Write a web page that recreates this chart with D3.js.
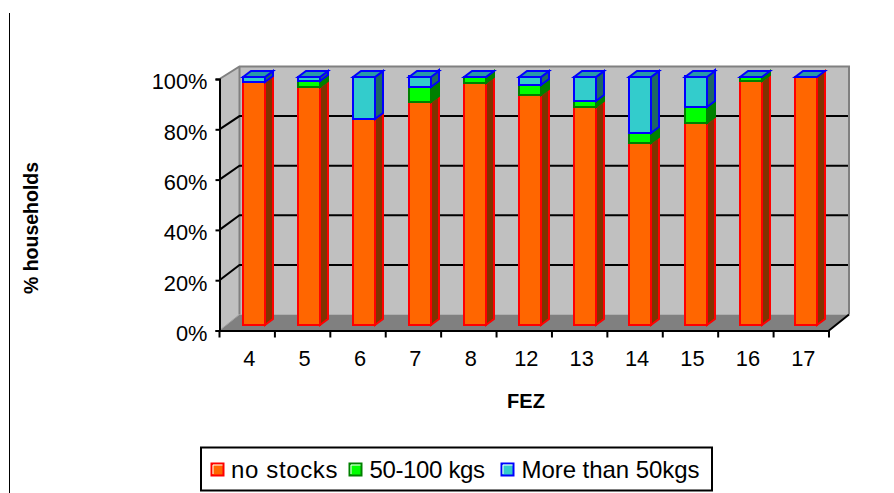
<!DOCTYPE html>
<html><head><meta charset="utf-8">
<script src="https://cdn.jsdelivr.net/npm/d3@7"></script>
<style>html,body{margin:0;padding:0;background:#fff}svg{display:block}text{font-family:"Liberation Sans",Arial,sans-serif;fill:#000}</style>
</head><body><svg id="c" width="894" height="493"></svg>
<script>
const categories=["4","5","6","7","8","12","13","14","15","16","17"];
const noStocks=[97.9,95.6,82.8,89.9,97.3,92.4,87.6,73.1,81.2,98,100];
const kgs50to100=[0,2.4,0,5.7,2.5,4,2.4,4.3,6.4,2,0];
const moreThan50=[2.1,2,17.2,4.4,0.2,3.6,10,22.6,12.4,0,0];
const seriesNames=["no stocks","50-100 kgs","More than 50kgs"];
const seriesValues=[noStocks,kgs50to100,moreThan50];
const fills=["#FF6600","#00FF00","#33CCCC"];
const strokes=["#FF0000","#008000","#0000FF"];
const sides=["#803300","#008000","#1F6666"];
const topFill="#2999A8";
const yTicks=[0,20,40,60,80,100];

const svg=d3.select("#c");
const W=[219.5,829],Yf=[330.5,79],dx=20;
const x=d3.scaleBand().domain(categories).range(W);
const y=d3.scaleLinear().domain([0,100]).range(Yf);
const backY=d3.scaleLinear().domain([0,100]).range([314.5,66.5]);
const barX=d3.scalePoint().domain(categories).range([243,795]);
const barY=d3.scaleLinear().domain([0,100]).range([325,76.5]);
const barW=22,bDx=8,bDy=-6;
const poly=p=>p.map(d=>d.join(",")).join(" ");
const backX=[W[0]+dx,W[1]+dx];

svg.append("line").attr("x1",9.5).attr("x2",9.5).attr("y1",13).attr("y2",493).attr("stroke","#000").attr("stroke-width",1);

// walls and floor
svg.append("polygon").attr("points",poly([[W[0],y(0)],[backX[0],backY(0)],[backX[0],backY(100)],[W[0],y(100)]])).attr("fill","#C0C0C0");
svg.append("rect").attr("x",backX[0]).attr("y",backY(100)).attr("width",backX[1]-backX[0]).attr("height",backY(0)-backY(100)).attr("fill","#C0C0C0");
svg.append("polygon").attr("points",poly([[W[0],y(0)],[W[1],y(0)],[backX[1],backY(0)],[backX[0],backY(0)]])).attr("fill","#808080");
svg.append("path").attr("d",`M${W[0]},${y(100)}L${backX[0]},${backY(100)}H${backX[1]}V${backY(0)}M${backX[0]},${backY(100)}V${backY(0)}`).attr("fill","none").attr("stroke","#808080").attr("stroke-width",2);
yTicks.slice(1,-1).forEach(t=>{
  svg.append("path").attr("d",`M${W[0]},${y(t)}L${backX[0]},${backY(t)}H${backX[1]-1}`).attr("fill","none").attr("stroke","#000").attr("stroke-width",2);
});
svg.append("line").attr("x1",W[1]).attr("y1",y(0)).attr("x2",backX[1]).attr("y2",backY(0)).attr("stroke","#000").attr("stroke-width",2);
svg.append("line").attr("x1",W[0]).attr("y1",y(0)).attr("x2",backX[0]).attr("y2",backY(0)).attr("stroke","#A0A0A0").attr("stroke-width",1);

// bars
const stacked=d3.stack().keys([0,1,2]).value((d,k)=>seriesValues[k][d])(categories.map((c,i)=>i));
categories.forEach((c,i)=>{
  const g=svg.append("g");
  const L=Math.round(barX(c)),R=L+barW;
  [0,1,2].forEach(k=>{
    if(seriesValues[k][i]<=0)return;
    const a=Math.round(barY(stacked[k][i][0])),b=Math.round(barY(stacked[k][i][1]));
    g.append("polygon").attr("points",poly([[R,a],[R+bDx,a+bDy],[R+bDx,b+bDy],[R,b]])).attr("fill",sides[k]).attr("stroke",strokes[k]).attr("stroke-width",2);
    g.append("rect").attr("x",L).attr("y",b).attr("width",barW).attr("height",a-b).attr("fill",fills[k]).attr("stroke",strokes[k]).attr("stroke-width",2);
  });
  const t=Math.round(barY(100));
  g.append("polygon").attr("points",poly([[L,t],[L+bDx,t+bDy],[R+bDx,t+bDy],[R,t]])).attr("fill",topFill).attr("stroke",strokes[2]).attr("stroke-width",2);
});

// axes
const tickFont='"Liberation Sans",Arial,sans-serif';
const ax=svg.append("g").attr("transform",`translate(0,${y(0)})`).call(d3.axisBottom(x).tickSize(0).tickPadding(0));
ax.select(".domain").attr("stroke","#000").attr("stroke-width",2);
ax.selectAll(".tick text").attr("x",2).attr("y",35.5).attr("dy",0).attr("font-size",21.8).style("font-family",tickFont);
d3.range(categories.length+1).forEach(i=>{
  const px=W[0]+i*x.bandwidth();
  svg.append("line").attr("x1",px).attr("x2",px).attr("y1",y(0)).attr("y2",y(0)+7).attr("stroke","#000").attr("stroke-width",2);
});
const ay=svg.append("g").attr("transform",`translate(${W[0]},0)`).call(d3.axisLeft(y).tickValues(yTicks).tickFormat(d=>d+"%").tickSize(4).tickPadding(8));
ay.select(".domain").attr("stroke","#000").attr("stroke-width",2);
ay.selectAll(".tick line").attr("stroke","#000").attr("stroke-width",2);
ay.selectAll(".tick text").attr("dy","0.45em").attr("font-size",21.8).style("font-family",tickFont);

// titles
svg.append("text").attr("x",526).attr("y",408).attr("text-anchor","middle").attr("font-size",20).attr("font-weight","bold").text("FEZ");
svg.append("text").attr("transform","translate(38,228) rotate(-90)").attr("text-anchor","middle").attr("font-size",19.5).attr("font-weight","bold").text("% households");

// legend
const lg=svg.append("g");
lg.append("rect").attr("x",201).attr("y",447.5).attr("width",511).attr("height",43).attr("fill","#fff").attr("stroke","#000").attr("stroke-width",2);
const swatchX=[211.5,349.5,501.5],labelX=[231,369.5,521.5],labelW=[106.5,115.5,178];
seriesNames.forEach((n,k)=>{
  lg.append("rect").attr("x",swatchX[k]).attr("y",463.5).attr("width",12).attr("height",12).attr("fill",fills[k]).attr("stroke",strokes[k]).attr("stroke-width",2);
  lg.append("path").attr("d",`M${swatchX[k]+1.5},${474}V465H${swatchX[k]+11}`).attr("fill","none").attr("stroke","#fff").attr("stroke-width",1);
  lg.append("text").attr("x",labelX[k]).attr("y",478).attr("font-size",24).attr("textLength",labelW[k]).attr("lengthAdjust","spacing").text(n);
});
</script></body></html>
